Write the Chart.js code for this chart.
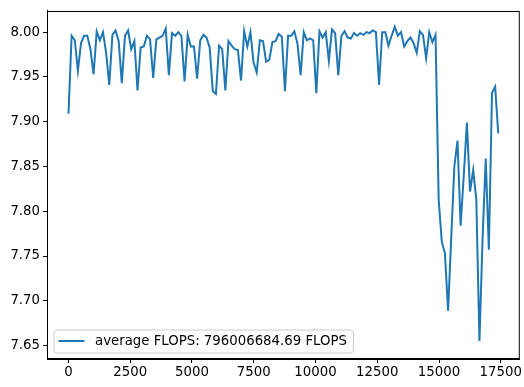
<!DOCTYPE html>
<html>
<head>
<meta charset="utf-8">
<script src="https://cdn.jsdelivr.net/npm/chart.js@4/dist/chart.umd.min.js"></script>
<style>
  html, body { margin: 0; padding: 0; background: #fff; }
  #wrap { width: 524px; height: 387px; }
</style>
</head>
<body>
<div id="wrap"><canvas id="flopsChart"></canvas></div>
<script>
// average FLOPS per logged step (scaled, as plotted)
const flops = [
  7.909, 7.996, 7.991, 7.957, 7.988, 7.996, 7.996, 7.981, 7.953, 8.001, 7.991, 8.000,
  7.977, 7.941, 7.997, 8.002, 7.990, 7.943, 7.996, 8.002, 7.981, 7.990, 7.935, 7.983,
  7.984, 7.996, 7.992, 7.949, 7.992, 7.994, 7.996, 8.004, 7.952, 7.999, 7.996, 8.000,
  7.996, 7.945, 7.997, 7.984, 7.984, 7.948, 7.991, 7.997, 7.994, 7.983, 7.934, 7.931, 7.985,
  7.981, 7.935, 7.990, 7.985, 7.981, 7.980, 7.946, 8.001, 7.984, 8.000, 7.966, 7.955,
  7.991, 7.990, 7.967, 7.969, 7.989, 7.990, 7.998, 7.995, 7.934, 7.996, 7.996, 8.001, 7.987,
  7.952, 8.000, 7.991, 7.993, 7.991, 7.932, 8.001, 7.994, 8.000, 7.968, 8.003, 7.999,
  7.952, 7.996, 8.001, 7.994, 7.993, 7.999, 7.996, 7.999, 7.997, 8.000, 7.999, 8.002, 8.000, 7.941,
  8.000, 8.000, 7.985, 7.996, 8.006, 7.996, 8.000, 7.984, 7.990, 7.994, 7.988, 7.977,
  8.001, 7.997, 7.971, 8.000, 7.989, 7.997,
  7.813, 7.766, 7.753, 7.689, 7.770, 7.850, 7.879, 7.784, 7.840, 7.899, 7.822, 7.846,
  7.813, 7.655, 7.770, 7.859, 7.757, 7.932, 7.939, 7.887
];

// logged every 127 iterations
const steps = flops.map((_, i) => i * 127);

const xTicks = [0, 2500, 5000, 7500, 10000, 12500, 15000, 17500];
const yTicks = [7.65, 7.70, 7.75, 7.80, 7.85, 7.90, 7.95, 8.00];

const seriesLabel = 'average FLOPS: 796006684.69 FLOPS';
const lineColor = '#1f77b4';
const tickFont = { family: 'DejaVu Sans', size: 13.3 };

// matplotlib-style box around the axes + legend in the lower left corner
const axesBox = {
  id: 'axesBox',
  afterDraw(chart) {
    const { ctx, chartArea: a } = chart;
    ctx.save();
    ctx.strokeStyle = '#000';
    ctx.lineWidth = 1;
    ctx.strokeRect(a.left + 0.5, a.top + 0.5, a.right - a.left - 1, a.bottom - a.top - 1);

    // legend
    ctx.font = '13.3px "DejaVu Sans"';
    const textW = ctx.measureText(seriesLabel).width;
    const x0 = a.left + 6.5, y1 = a.bottom - 6.5;
    const h = 23, w = 5 + 26 + 10.5 + textW + 6;
    ctx.beginPath();
    ctx.roundRect(x0 + 0.5, y1 - h + 0.5, w, h, 3);
    ctx.fillStyle = 'rgba(255,255,255,0.8)';
    ctx.fill();
    ctx.strokeStyle = '#cccccc';
    ctx.stroke();

    const cy = y1 - h / 2;
    ctx.beginPath();
    ctx.moveTo(x0 + 5, cy);
    ctx.lineTo(x0 + 31, cy);
    ctx.strokeStyle = lineColor;
    ctx.lineWidth = 2;
    ctx.stroke();

    ctx.fillStyle = '#000';
    ctx.textBaseline = 'middle';
    ctx.fillText(seriesLabel, x0 + 41.5, cy + 1);
    ctx.restore();
  }
};

new Chart(document.getElementById('flopsChart'), {
  type: 'line',
  data: {
    labels: steps,
    datasets: [{
      label: seriesLabel,
      data: flops,
      borderColor: lineColor,
      borderWidth: 2,
      pointRadius: 0,
      tension: 0,
      fill: false
    }]
  },
  options: {
    responsive: true,
    maintainAspectRatio: false,
    animation: false,
    layout: { padding: { top: 4, right: 2, left: 0, bottom: 0 } },
    plugins: {
      legend: { display: false },
      tooltip: { enabled: false }
    },
    scales: {
      x: {
        type: 'linear',
        min: -870,
        max: 18269,
        afterBuildTicks: s => { s.ticks = xTicks.map(v => ({ value: v })); },
        afterFit: s => { s.height = 28; },
        grid: { display: true, drawOnChartArea: false, drawTicks: true, tickLength: 4, color: '#000' },
        border: { display: true, color: '#000' },
        ticks: { font: tickFont, color: '#000', padding: 2, maxRotation: 0, callback: v => String(v) }
      },
      y: {
        type: 'linear',
        min: 7.635,
        max: 8.0237,
        afterBuildTicks: s => { s.ticks = yTicks.map(v => ({ value: v })); },
        afterFit: s => { s.width = 47; },
        grid: { display: true, drawOnChartArea: false, drawTicks: true, tickLength: 4, color: '#000' },
        border: { display: true, color: '#000' },
        ticks: { font: tickFont, color: '#000', padding: 3, callback: v => v.toFixed(2) }
      }
    }
  },
  plugins: [axesBox]
});
</script>
</body>
</html>
